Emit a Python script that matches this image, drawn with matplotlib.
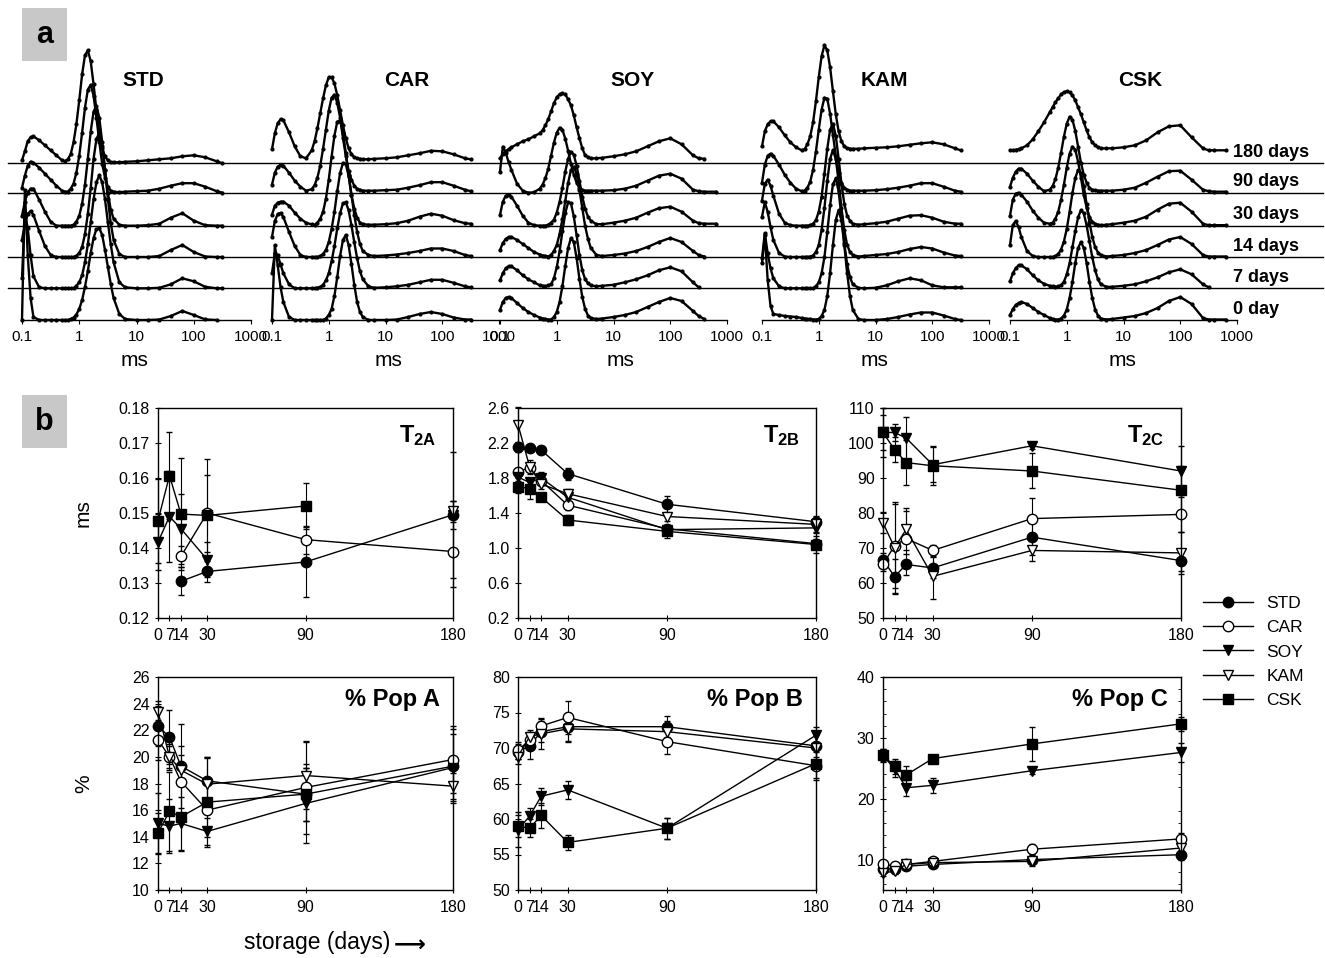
import numpy as np
import matplotlib.pyplot as plt
from matplotlib.lines import Line2D
from matplotlib.patches import Rectangle
from matplotlib.ticker import NullLocator

plt.rcParams['font.family'] = ['Liberation Sans', 'DejaVu Sans']
plt.rcParams['mathtext.fontset'] = 'custom'
plt.rcParams['mathtext.rm'] = 'Liberation Sans'
plt.rcParams['mathtext.bf'] = 'Liberation Sans:bold'

nan = np.nan

# ---------------- panel a : T2 distributions (arbitrary amplitude) ----------------
LOG_T = [-1.0, -0.95, -0.9, -0.85, -0.8, -0.7, -0.6, -0.5, -0.4, -0.3,
         -0.25, -0.2, -0.15, -0.1, -0.05, 0.0, 0.05, 0.1, 0.15, 0.2,
         0.25, 0.3, 0.35, 0.4, 0.45, 0.5, 0.55, 0.6, 0.7, 0.8,
         1.0, 1.2, 1.4, 1.6, 1.8, 2.0, 2.2, 2.4, 2.5, 2.6, 2.8]

GROUPS = ['STD', 'CAR', 'SOY', 'KAM', 'CSK']
DAY_LABELS = ['0 day', '7 days', '14 days', '30 days', '90 days', '180 days']

# each group: curves for 0, 7, 14, 30, 90, 180 days
STD_CURVES = [
    [0, 130, 65, 22, 3, 0, 0, 0, 0, 0, 0, 0, 1, 2.5, 5.5, 11, 20, 33, 49, 67, 82, 91, 92, 85, 70,
     53, 36, 22, 6, 1, 0, 0, 0.5, 4, 9, 5, 0.6, 0, nan, nan, nan],
    [10, 75, 60, 33, 12, 1, 0, 0, 0, 0, 0, 0, 0, 0, 2.5, 6, 13, 26, 44, 66, 89, 106, 113, 106, 89,
     66, 44, 26, 6, 1, 0, 0, 0.5, 4, 10, 7, 1.5, 0, 0, nan, nan],
    [17, 33, 43, 46, 42, 26, 11, 2, 0, 0, 0, 0, 0, 0, 1, 4, 10, 23, 43, 69, 98, 118, 124, 111, 87,
     58, 34, 17, 3, 0, 0, 0, 1, 7, 12, 5, 0.5, 0, 0, nan, nan],
    [10, 24, 33, 37, 37, 26, 14, 4, 0, 0, 0, 0, 0, 1, 4, 10, 22, 41, 67, 94, 114, 120, 108, 84, 56,
     33, 16, 7, 1, 0, 0, 0.5, 2, 8, 12.5, 5, 0.5, 0, 0, nan, nan],
    [5, 17, 27, 31, 30, 25, 19, 13, 7, 2, 1, 1, 4, 9, 20, 37, 60, 85, 103, 108, 97, 75, 51, 29, 15,
     6, 2, 1, 0.5, 1, 1.5, 2, 4, 7, 9.5, 9.5, 6, 1.5, 0, nan, nan],
    [3, 12, 22, 26, 27, 23, 18, 13, 8, 3, 2, 4, 9, 21, 39, 63, 89, 108, 113, 102, 79, 53, 31, 15, 7,
     3, 1, 1, 1, 1.5, 2, 3, 4, 5, 7, 8, 6, 2, 0, nan, nan],
]
CAR_CURVES = [
    [0, 75, 55, 33, 18, 3, 0, 0, 0, 0, 0, 0, 0, 0, 1.5, 5, 11, 24, 43, 64, 80, 85, 75, 56, 35,
     18, 8, 3, 0, 0, 0, 0.5, 3, 6, 8, 6, 2.5, 0.5, 0.5, nan, nan],
    [15, 35, 33, 24, 15, 4, 0, 0, 0, 0, 0, 0.5, 1.4, 3.5, 8, 15, 27, 42, 60, 75, 85, 86, 78, 63, 46,
     30, 17, 9, 2, 0.5, 1, 2, 3.5, 6, 8.5, 8.5, 5.5, 2, 1, nan, nan],
    [20, 36, 43, 44, 40, 25, 11, 2, 0, 0, 0, 0, 1, 3, 7, 15, 28, 45, 66, 84, 94, 93, 81, 62, 42,
     25, 13, 6, 2, 1, 1.5, 2.5, 4, 6, 8.5, 8.5, 6, 2, 1, nan, nan],
    [11, 20, 23, 24, 24, 20, 13, 7, 3, 1.3, 1, 3, 7, 14, 27, 46, 69, 90, 104, 105, 93, 73, 51, 31, 17,
     8, 3, 1.5, 1, 1, 1.5, 2.5, 5, 9, 12, 10, 5.5, 2.5, 2, nan, nan],
    [8, 20, 26, 28, 27, 20, 12, 6, 2, 3.5, 7.5, 15, 27, 44, 63, 82, 95, 98, 90, 75, 55, 37, 22, 13, 7,
     4, 3, 2, 2, 2, 2.5, 3, 5, 7.5, 10.5, 10.5, 7, 3, 1.5, nan, nan],
    [14, 30, 40, 44, 43, 31, 17, 7, 5, 13, 22, 35, 50, 65, 78, 86, 86, 80, 68, 53, 38, 25, 15, 9, 6,
     5, 4.5, 4, 4, 4.5, 5, 6, 8, 10, 12.5, 12, 9, 5, 4, nan, nan],
]
SOY_CURVES = [
    [10, 18, 22, 23, 22, 17, 12, 8, 5, 2.5, 1.5, 1, 0.5, 0.5, 3, 8, 18, 34, 54, 72, 82, 78, 62, 41, 23,
     11, 4.5, 2, 1, 1.5, 3, 5, 8, 13, 18, 22, 19, 9, 4, 1, nan],
    [8, 15, 20, 22, 22, 18, 13, 9, 6, 3, 2.5, 2, 3, 4, 10, 21, 37, 57, 75, 86, 85, 72, 53, 33, 18,
     9, 5, 3, 2, 2.5, 3.5, 6, 9, 13, 18, 21, 17, 6, 1, nan, nan],
    [7, 14, 18, 20, 20, 17, 13, 9, 5, 2.5, 1.5, 1, 0.5, 2, 6, 12, 23, 38, 56, 74, 87, 90, 83, 67, 49,
     31, 18, 9, 2, 1, 2, 3.5, 6, 10, 15, 19, 15, 6, 2, 0.5, nan],
    [11, 24, 30, 31, 29, 20, 10, 3, 0.5, 0, 0, 0, 1, 3, 6, 13, 24, 38, 54, 67, 74, 71, 60, 45, 29,
     17, 9, 5, 1.5, 1.5, 3, 5, 8, 13, 17.5, 19, 14, 5, 2.5, 2, 2],
    [21, 46, 40, 31, 23, 9, 2, 0, 0.5, 4, 8, 14.5, 24, 37, 50, 60, 65, 63, 54, 42, 29, 18, 10, 5, 3,
     2, 2, 2, 2, 2, 2.5, 4, 7, 12, 17, 19, 14, 3, 1.5, 1, 1],
    [5, 9, 12, 14, 16, 19, 22, 24, 27, 30, 33, 38, 44, 52, 60, 66, 69, 70, 69, 64, 58, 48, 36, 25, 15,
     8, 6, 5, 5, 5.5, 7, 9, 12, 17, 22, 25, 19, 8, 5, 4.5, nan],
]
KAM_CURVES = [
    [57, 85, 40, 14, 6, 5, 4, 3.5, 3, 2, 1.5, 1, 1, 0.5, 0.5, 1, 4, 10, 24, 47, 75, 100, 110, 100, 75,
     47, 24, 10, 1, 0, 0, 1, 3, 5.5, 7.5, 7.5, 4.5, 1, 0, nan, nan],
    [30, 55, 35, 20, 10, 2, 0, 0, 0, 0, 0, 0, 0, 0, 2, 6, 15, 31, 56, 83, 104, 110, 97, 72, 45,
     24, 11, 4, 0.5, 0, 0.5, 3, 7, 10, 8, 3, 1, 1, 1, nan, nan],
    [40, 55, 45, 30, 17, 4, 0.5, 0, 0, 0, 0, 0, 0.5, 1.5, 5, 12, 27, 49, 76, 98, 107, 98, 76, 49, 27,
     12, 5, 2, 0.5, 1, 2, 3, 5, 8, 10, 8.5, 4.5, 1.5, 1, nan, nan],
    [25, 42, 46, 40, 30, 12, 3, 0.5, 0, 0, 0, 0, 0.5, 2, 5.5, 14, 29, 52, 77, 96, 102, 90, 67, 42, 22,
     10, 5, 2, 1, 1.5, 2.5, 4, 7, 10, 10.5, 8, 4, 2, 2, nan, nan],
    [10, 28, 37, 39, 37, 28, 18, 10, 4, 1.5, 2, 5, 11, 23, 41, 63, 83, 95, 94, 79, 58, 37, 20, 10, 5,
     3, 2, 2, 2, 2, 2.5, 3.5, 5, 7, 9.5, 9.5, 6, 2, 1, nan, nan],
    [17, 32, 39, 42, 42, 36, 28, 21, 16, 13, 14, 19, 27, 41, 62, 86, 107, 118, 113, 96, 72, 49, 32, 22, 17,
     15, 14.5, 14.5, 14.5, 15, 15.5, 16, 17, 18.5, 20, 21, 19, 15, 13, nan, nan],
]
CSK_CURVES = [
    [5, 11, 15, 17, 18, 16, 12, 8, 5, 2, 1, 0.5, 0.5, 1.5, 4.4, 10.5, 22, 38, 57, 72, 78, 72, 57, 38, 22,
     10.5, 4.4, 1.5, 0.5, 1, 2.5, 4, 7, 12, 19, 23, 16, 2, 0.5, 0.5, 0.5],
    [7, 15, 20, 23, 23, 19, 13, 8, 4.5, 2.5, 2, 1.5, 2, 3, 6.5, 14, 25, 41, 57, 71, 78, 75, 63, 47, 31,
     18, 9, 4, 1.5, 1.5, 2.5, 4, 7, 11, 16, 19, 14, 4, 1, nan, nan],
    [12, 32, 36, 30, 20, 6, 1, 0, 0, 0, 0, 1, 3, 7.5, 15.5, 28, 45, 64, 79, 87, 84, 71, 53, 35, 20,
     10, 4.5, 2, 0.5, 1, 2, 4, 7, 12, 17.5, 20, 13, 2, 0.5, 0.5, 0.5],
    [10, 26, 32, 33, 31, 24, 15, 8, 3, 2, 3, 7, 14, 26, 41, 58, 72, 79, 76, 64, 48, 31, 18, 9, 4,
     2, 1, 0.5, 1, 1.5, 3, 5, 9, 16, 22, 23, 14, 2, 0.5, 0.5, 0.5],
    [6, 15, 21, 24, 24, 19, 12, 6, 1.5, 3, 6.5, 13.5, 25, 40, 56, 69, 76, 73, 62, 46, 30, 18, 10, 5, 3,
     2.5, 2, 2, 2, 2, 3, 5, 10, 16, 21.5, 22, 13, 3, 1.5, 1, 1],
    [13, 13, 13.5, 14, 15, 18, 24, 32, 41, 51, 56, 61, 65, 69, 71, 72, 71, 68, 63, 56, 49, 41, 33, 26, 21,
     18, 16, 15, 15, 15, 16, 18, 23, 31, 37, 38, 26, 15, 13, 13, 13],
]

# ---------------- panel b : fitted parameters vs storage ----------------
DAYS = [0, 7, 14, 30, 90, 180]
SERIES = ['STD', 'CAR', 'SOY', 'KAM', 'CSK']

T2A_MS = [[nan, nan, 0.1305, 0.1333, 0.136, 0.1495],
          [nan, nan, 0.1376, 0.150, 0.1424, 0.139],
          [0.1417, 0.149, 0.1455, 0.1367, nan, 0.1495],
          [nan, nan, nan, nan, nan, 0.1505],
          [0.1478, 0.1607, 0.1497, 0.1493, 0.152, nan]]
T2A_ERR = [[nan, nan, 0.004, 0.003, 0.010, 0.018],
           [nan, nan, 0.003, 0.011, 0.004, 0.010],
           [0.008, 0.013, 0.010, 0.005, nan, 0.004],
           [nan, nan, nan, nan, nan, 0.003],
           [0.012, 0.0125, 0.016, 0.016, 0.0065, nan]]

T2B_MS = [[2.15, 2.14, 2.12, 1.85, 1.50, 1.30],
          [1.87, 1.92, 1.77, 1.49, 1.22, 1.05],
          [1.81, 1.75, 1.80, 1.58, 1.21, 1.23],
          [2.41, 1.93, 1.73, 1.62, 1.36, 1.27],
          [1.70, 1.68, 1.58, 1.32, 1.19, 1.04]]
T2B_ERR = [[0.05, 0.03, 0.03, 0.07, 0.10, 0.06],
           [0.05, 0.05, 0.05, 0.05, 0.04, 0.05],
           [0.05, 0.05, 0.07, 0.05, 0.04, 0.05],
           [0.20, 0.08, 0.05, 0.06, 0.05, 0.10],
           [0.07, 0.12, 0.03, 0.06, 0.07, 0.10]]

T2C_MS = [[66.7, 61.8, 65.3, 64.3, 73.1, 66.4],
          [65.3, 70.7, 72.7, 69.3, 78.4, 79.6],
          [103.0, 103.0, 101.4, 93.8, 99.2, 92.0],
          [77.2, 70.1, 75.3, 61.9, 69.3, 68.6],
          [103.0, 98.1, 94.4, 93.5, 92.0, 86.5]]
T2C_ERR = [[2, 5, 3, 3, 5, 3],
           [2, 12, 8, 1.5, 6, 5],
           [5, 2.5, 6, 5, 1, 7],
           [3, 13, 6, 6.5, 3, 6],
           [7, 3.5, 6.5, 5.5, 5, 7]]

POP_A = [[22.3, 21.5, 19.3, 18.2, 17.2, 19.3],
         [21.3, 20.0, 18.15, 16.0, 17.7, 19.8],
         [15.0, 14.8, 15.0, 14.4, 16.5, 19.2],
         [23.4, 20.0, 19.0, 17.95, 18.6, 17.8],
         [14.3, 15.9, 15.5, 16.6, 17.2, nan]]
POP_A_ERR = [[1.5, 2.0, 1.5, 1.8, 2.0, 2.8],
             [1.5, 1.0, 2.0, 2.0, 3.5, 2.5],
             [2.3, 2.0, 2.0, 1.0, 3.0, 2.5],
             [0.8, 0.8, 3.5, 2.0, 2.5, 1.0],
             [1.5, 3.0, 2.6, 3.4, 2.0, nan]]

POP_B = [[69.5, 70.3, 72.3, 73.0, 73.0, 70.3],
         [69.7, 71.1, 73.1, 74.3, 70.9, 67.5],
         [58.5, 60.4, 63.2, 64.1, 58.7, 71.8],
         [68.8, 71.6, 72.0, 72.7, 72.3, 70.0],
         [59.0, 58.7, 60.5, 56.7, 58.7, 67.8]]
POP_B_ERR = [[1.0, 1.8, 1.5, 2.0, 1.5, 1.5],
             [1.2, 1.2, 1.0, 2.3, 1.8, 2.0],
             [2.5, 1.2, 1.2, 1.3, 1.5, 1.2],
             [1.0, 1.0, 2.2, 1.8, 1.5, 2.0],
             [1.5, 1.3, 1.8, 1.0, 1.5, 2.0]]

POP_C = [[8.4, 8.5, 8.9, 9.2, 10.0, 10.8],
         [9.2, 9.0, 9.2, 9.7, 11.7, 13.4],
         [27.1, 24.9, 21.8, 22.2, 24.6, 27.6],
         [7.8, 8.1, 9.2, 9.5, 9.7, 11.9],
         [27.2, 25.3, 23.9, 26.6, 29.0, 32.3]]
POP_C_ERR = [[0.5, 0.5, 0.5, 0.5, 0.6, 0.8],
             [0.5, 0.5, 0.5, 0.5, 0.8, 1.0],
             [1.0, 1.3, 1.3, 1.2, 0.5, 1.5],
             [0.5, 0.5, 0.5, 0.5, 0.8, 1.0],
             [1.0, 1.3, 1.4, 0.5, 2.8, 1.2]]

# ---------------- layout (pixels of the 1325 x 958 picture) ----------------
W, H = 1325, 958
A_TOP, A_BASE = 30, 320
A_SPANS = [(22, 251), (272, 499), (500, 727), (762, 989), (1010, 1237)]
A_TITLE_X = [143, 407, 633, 884, 1140]
A_MS_X = [135, 389, 620, 874, 1123]
A_OFFSETS = [0, 31.7, 63, 94.3, 127.3, 156.7]

B_COLS = [(158, 453), (518, 816), (883, 1181)]
B_ROWS = [(408, 618), (677, 890)]

MARKERS = {'STD': ('o', 'k'), 'CAR': ('o', 'w'), 'SOY': ('v', 'k'),
           'KAM': ('v', 'w'), 'CSK': ('s', 'k')}


def px_axes(fig, x0, y0, x1, y1):
    return fig.add_axes([x0 / W, 1 - y1 / H, (x1 - x0) / W, (y1 - y0) / H])


def draw_panel_a(fig, bg):
    t = 10 ** np.array(LOG_T)
    all_curves = [STD_CURVES, CAR_CURVES, SOY_CURVES, KAM_CURVES, CSK_CURVES]
    for name, curves, (x0, x1), tx, mx in zip(GROUPS, all_curves, A_SPANS, A_TITLE_X, A_MS_X):
        ax = px_axes(fig, x0, A_TOP, x1, A_BASE)
        ax.patch.set_visible(False)
        for off, h in zip(A_OFFSETS, curves):
            ax.plot(t, off + np.array(h, dtype=float), color='k', lw=1.7,
                    marker='o', ms=2.0, clip_on=False)
        ax.set_xscale('log')
        ax.set_xlim(0.1, 1000)
        ax.set_ylim(0, A_BASE - A_TOP)
        ax.set_xticks([0.1, 1, 10, 100, 1000])
        ax.set_xticklabels(['0.1', '1', '10', '100', '1000'])
        ax.xaxis.set_minor_locator(NullLocator())
        ax.set_yticks([])
        for s in ['left', 'right', 'top']:
            ax.spines[s].set_visible(False)
        ax.spines['bottom'].set_linewidth(1.0)
        ax.tick_params(axis='x', direction='out', length=3, width=0.8,
                       labelsize=11, pad=4)
        bg.text(tx, 80, name, ha='center', va='center', fontsize=15, fontweight='bold')
        bg.text(mx, 360, 'ms', ha='center', va='center', fontsize=15)

    # baselines of the stacked curves run across the whole row
    for off in A_OFFSETS[1:]:
        bg.plot([8, 1323], [A_BASE - off, A_BASE - off], color='k', lw=1.0)
    for off, lab in zip(A_OFFSETS, DAY_LABELS):
        bg.text(1233, A_BASE - off - 11, lab, ha='left', va='center',
                fontsize=13, fontweight='bold')


def draw_panel_b(fig):
    specs = [
        (T2A_MS, T2A_ERR, (0.12, 0.18), np.arange(0.12, 0.181, 0.01), '{:.2f}',
         r'$\mathbf{T_{2A}}$', 'ms'),
        (T2B_MS, T2B_ERR, (0.2, 2.6), np.arange(0.2, 2.61, 0.4), '{:.1f}',
         r'$\mathbf{T_{2B}}$', None),
        (T2C_MS, T2C_ERR, (50, 110), np.arange(50, 111, 10), '{:.0f}',
         r'$\mathbf{T_{2C}}$', None),
        (POP_A, POP_A_ERR, (10, 26), np.arange(10, 27, 2), '{:.0f}',
         '% Pop A', '%'),
        (POP_B, POP_B_ERR, (50, 80), np.arange(50, 81, 5), '{:.0f}',
         '% Pop B', None),
        (POP_C, POP_C_ERR, (5, 40), np.arange(10, 41, 10), '{:.0f}',
         '% Pop C', None),
    ]
    for i, (vals, errs, ylim, yt, fmt, title, ylab) in enumerate(specs):
        (y0, y1) = B_ROWS[i // 3]
        (x0, x1) = B_COLS[i % 3]
        ax = px_axes(fig, x0, y0, x1, y1)
        for name, v, e in zip(SERIES, vals, errs):
            m, fc = MARKERS[name]
            ax.errorbar(DAYS, v, yerr=e, color='k', lw=1.0, marker=m,
                        ms=7.5 if m != 's' else 6.5, mfc=fc, mec='k', mew=1.0,
                        elinewidth=0.8, capsize=2.5, capthick=0.8, clip_on=False)
        ax.set_xlim(0, 180)
        ax.set_ylim(*ylim)
        ax.set_xticks(DAYS)
        ax.set_yticks(yt)
        ax.set_yticklabels([fmt.format(y) for y in yt])
        ax.tick_params(direction='inout', length=5, width=0.8, labelsize=11.5)
        ax.tick_params(axis='x', pad=5)
        if i == 5:
            ax.set_yticks(np.arange(6, 40, 2), minor=True)
            ax.tick_params(which='minor', direction='in', length=2.5, width=0.6,
                           right=True)
        for s in ax.spines.values():
            s.set_linewidth(1.0)
        if title.startswith('%'):
            ax.text(0.955, 0.95, title, transform=ax.transAxes, ha='right',
                    va='top', fontsize=17, fontweight='bold')
        else:
            ax.text(0.945, 0.93, title, transform=ax.transAxes, ha='right',
                    va='top', fontsize=17)
        if ylab:
            ax.set_ylabel(ylab, fontsize=15)
            ax.yaxis.set_label_coords(-(x0 - 93) / (x1 - x0), 0.5)

    handles = []
    for name in SERIES:
        m, fc = MARKERS[name]
        handles.append(Line2D([], [], color='k', lw=1.0, marker=m, mfc=fc, mec='k',
                              ms=7.5 if m != 's' else 6.5))
    fig.legend(handles, SERIES, loc='upper left', bbox_to_anchor=(1203 / W, 1 - 596 / H),
               frameon=False, fontsize=12.5, handlelength=2.9, handletextpad=0.75,
               labelspacing=0.52, borderpad=0, borderaxespad=0)


def main():
    fig = plt.figure(figsize=(W / 100, H / 100), dpi=100)
    bg = fig.add_axes([0, 0, 1, 1])
    bg.set_xlim(0, W)
    bg.set_ylim(H, 0)
    bg.axis('off')

    # grey panel tags
    for lab, y in [('a', 8), ('b', 395)]:
        bg.add_patch(Rectangle((22, y), 45, 53, facecolor='#c8c8c8', edgecolor='none'))
        bg.text(44.5, y + 27, lab, ha='center', va='center', fontsize=22, fontweight='bold')

    draw_panel_a(fig, bg)
    draw_panel_b(fig)

    bg.text(390, 943, 'storage (days)', ha='right', va='center', fontsize=16.5)
    bg.text(394, 945, '\u27f6', ha='left', va='center', fontsize=16,
            fontweight='bold', family=['DejaVu Sans'])

    fig.savefig('out.png', dpi=100)


if __name__ == "__main__":
    main()
